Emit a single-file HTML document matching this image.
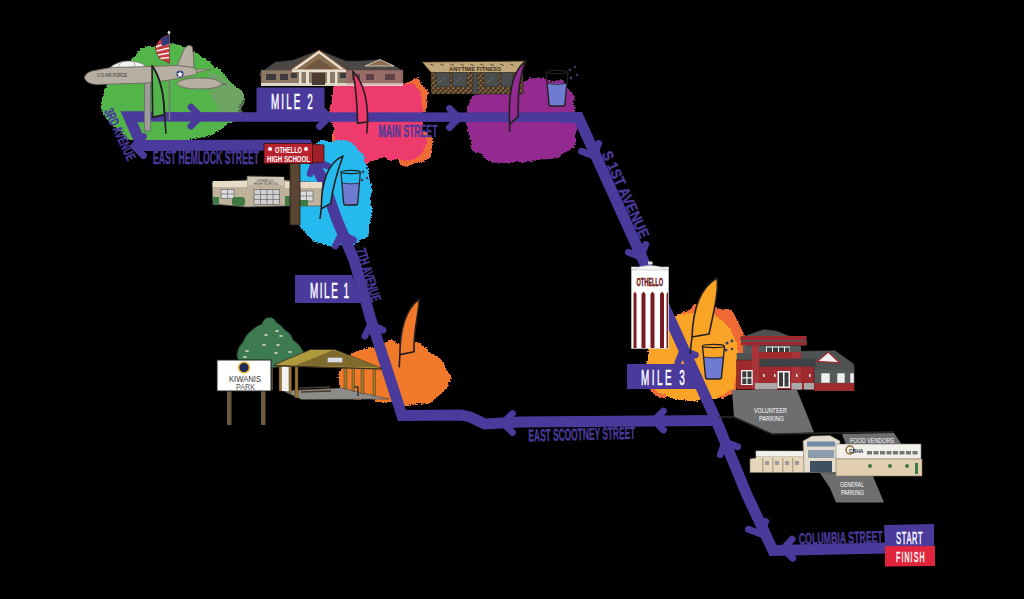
<!DOCTYPE html>
<html><head><meta charset="utf-8">
<style>
html,body{margin:0;padding:0;background:#000;width:1024px;height:599px;overflow:hidden}
svg{display:block}
text{font-family:"Liberation Sans",sans-serif}
</style></head>
<body>
<svg width="1024" height="599" viewBox="0 0 1024 599">
<defs>
<filter id="rough" x="-20%" y="-20%" width="140%" height="140%">
<feTurbulence type="fractalNoise" baseFrequency="0.08" numOctaves="3" seed="5" result="n"/>
<feDisplacementMap in="SourceGraphic" in2="n" scale="10" xChannelSelector="R" yChannelSelector="G"/>
</filter>
<filter id="rough2" x="-20%" y="-20%" width="140%" height="140%">
<feTurbulence type="fractalNoise" baseFrequency="0.25" numOctaves="2" seed="8" result="n"/>
<feDisplacementMap in="SourceGraphic" in2="n" scale="7" xChannelSelector="R" yChannelSelector="G"/>
</filter>
<filter id="spray" x="-15%" y="-15%" width="130%" height="130%">
<feTurbulence type="fractalNoise" baseFrequency="0.08" numOctaves="3" seed="5" result="n"/>
<feDisplacementMap in="SourceGraphic" in2="n" scale="9" xChannelSelector="R" yChannelSelector="G" result="d"/>
<feGaussianBlur in="d" stdDeviation="2.2" result="b"/>
<feTurbulence type="fractalNoise" baseFrequency="0.7" numOctaves="1" seed="11" result="t"/>
<feColorMatrix in="t" type="matrix" values="0 0 0 0 0  0 0 0 0 0  0 0 0 0 0  1 0 0 0 0" result="ta"/>
<feComposite in="b" in2="ta" operator="arithmetic" k1="0" k2="1" k3="0.7" k4="-0.35" result="m"/>
<feComponentTransfer in="m" result="m2"><feFuncA type="discrete" tableValues="0 1"/></feComponentTransfer>
<feMorphology in="d" operator="dilate" radius="5" result="d2"/>
<feComposite in="d2" in2="m2" operator="in"/>
</filter>
<g id="flagR">
<path d="M2,-16 C3,-42 12,-64 27,-76 C29,-58 25,-38 19,-20 Z" stroke="#231f20" stroke-width="1.6" vector-effect="non-scaling-stroke" stroke-linejoin="round"/>
<path d="M0,0 L2,-16" stroke="#231f20" stroke-width="1.8" vector-effect="non-scaling-stroke" fill="none"/>
</g>
<g id="glass">
<path d="M1,13 L3,33 Q3,35 5,35 L17,35 Q19,35 19,33 L21,13 Z" fill="#6f7bd0"/>
<path d="M0,2 L3,33 Q3,35 5,35 L17,35 Q19,35 19,33 L22,2" fill="none" stroke="#231f20" stroke-width="1.4"/>
<ellipse cx="11" cy="2" rx="11" ry="1.6" fill="none" stroke="#231f20" stroke-width="1.2"/>
<path d="M1,13 Q11,15 21,13" fill="none" stroke="#231f20" stroke-width="0.8"/>
</g>
<g id="chev">
<path d="M-9.5,-9.5 L0,0 L-9.5,9.5" fill="none" stroke="#4a3a9c" stroke-width="6.8" stroke-linecap="round" stroke-linejoin="round"/>
</g>
</defs>
<rect width="1024" height="599" fill="#000"/>

<!-- BLOBS -->
<path filter="url(#spray)" fill="#52b44a" d="M137,52 L150,47 L175,44 L195,52 L212,62 L225,75 L244,95 L238,116 L222,130 L205,138 L170,142 L142,142 L125,138 L110,124 L100,106 L104,88 L120,70 Z"/>
<path filter="url(#spray)" fill="#7aa070" opacity="0.7" d="M205,70 L225,78 L246,96 L240,118 L222,118 L212,95 Z"/>
<path filter="url(#spray)" fill="#f06a35" d="M398,84 L418,79 L427,92 L426,114 L412,108 Z"/>
<path filter="url(#spray)" fill="#f06a35" d="M330,128 L338,126 L342,150 L333,146 Z"/>
<path filter="url(#spray)" fill="#f06a35" d="M396,152 L418,140 L426,128 L433,140 L432,156 L420,164 L400,164 Z"/>
<path filter="url(#spray)" fill="#ee3a6e" d="M333,84 L380,82 L416,84 L423,95 L423,125 L427,140 L422,155 L410,160 L385,160 L360,162 L340,152 L332,130 L330,105 Z"/>
<path filter="url(#spray)" fill="#922a8f" d="M470,96 L500,86 L530,78 L562,80 L574,98 L577,125 L574,148 L558,158 L530,162 L495,163 L472,150 L466,125 Z"/>
<path filter="url(#spray)" fill="#26b9ed" d="M322,140 L345,140 L362,152 L370,172 L372,200 L370,232 L355,246 L330,247 L312,240 L298,225 L290,200 L292,175 L300,158 Z"/>
<path filter="url(#spray)" fill="#f07a2a" d="M338,374 L346,360 L357,352 L375,346 L390,341 L413,342 L430,350 L445,364 L451,377 L446,392 L424,404 L400,405 L380,401 L352,398 L340,388 Z"/>
<path filter="url(#spray)" fill="#f06a35" d="M670,318 L700,304 L730,310 L744,330 L746,355 L740,385 L722,400 L700,380 L715,335 Z"/>
<path filter="url(#spray)" fill="#f06a35" d="M646,360 L660,350 L672,380 L668,400 L650,392 Z"/>
<path filter="url(#spray)" fill="#f9a425" d="M652,335 L680,314 L712,312 L732,330 L740,358 L734,388 L712,400 L675,400 L652,385 L646,360 Z"/>


<!-- ROUTE -->
<g fill="none" stroke="#4a3a9c" stroke-width="11" stroke-linejoin="miter" stroke-miterlimit="6" stroke-linecap="butt">
<path d="M886,548 L773,550.5 L747,495 L716,420 L644,262 L578.5,117.5 L560,117.5"/>
<path stroke-width="9.5" d="M580,117.3 L127,116.8"/>
<path d="M145,116.8 L129,116.8 L141.5,145.5 L307,145 L317,168 L324,183 L337,220 L354,260 L371,320 L402,415.5 L461,415 L470,417 L485,424 L520,422 L716,420.5"/>
</g>
<g>
<use href="#chev" transform="translate(200.5,116.7)"/>
<use href="#chev" transform="translate(329,117)"/>
<use href="#chev" transform="translate(459,118)"/>
<use href="#chev" transform="translate(594,156) rotate(65.5)"/>
<use href="#chev" transform="translate(641,257) rotate(65.5)"/>
<use href="#chev" transform="translate(683,350) rotate(247)"/>
<use href="#chev" transform="translate(725,442) rotate(245.5)"/>
<use href="#chev" transform="translate(761,534) rotate(65.5)"/>
<use href="#chev" transform="translate(783,549) rotate(178)"/>
<use href="#chev" transform="translate(503,423) rotate(180)"/>
<use href="#chev" transform="translate(654,420.5) rotate(180)"/>
<use href="#chev" transform="translate(371,324) rotate(252)"/>
<use href="#chev" transform="translate(341.5,234) rotate(252)"/>
<use href="#chev" transform="translate(315,161) rotate(246)"/>
<use href="#chev" transform="translate(134,146) rotate(180)"/>
</g>
<!-- Mile labels -->
<g fill="#4a3a9c">
<rect x="256.5" y="87.5" width="68" height="26"/>
<path d="M295,275 L352,275 L362,303 L295,303 Z"/>
<path d="M627,364 L690,364 L700,389 L627,389 Z"/>
<path d="M884,525 L934,524 L934,546 L885,546 Z"/>
</g>
<path d="M885,546 L935,546 L935,566 L885,566.5 Z" fill="#e0243b"/>
<g fill="#fff" stroke="#fff" stroke-width="0.6" font-size="21.5">
<text transform="translate(271,108.8) scale(0.46,1)" textLength="91" lengthAdjust="spacing">MILE 2</text>
<text transform="translate(310,297.8) scale(0.46,1)" textLength="85" lengthAdjust="spacing">MILE 1</text>
<text transform="translate(641,385) scale(0.46,1)" textLength="95" lengthAdjust="spacing">MILE 3</text>
</g>
<g fill="#fff" stroke="#fff" stroke-width="0.5">
<text transform="translate(896,543.8) scale(0.46,1)" font-size="16.4" textLength="58" lengthAdjust="spacing">START</text>
<text transform="translate(896,562) scale(0.46,1)" font-size="15.3" textLength="62" lengthAdjust="spacing">FINISH</text>
</g>

<!-- PLANE -->
<g id="plane">
<rect x="144.5" y="82" width="6" height="49" fill="#9c9c9c" stroke="#6a6a6a" stroke-width="0.8"/>
<line x1="169.5" y1="80" x2="169.5" y2="120" stroke="#777" stroke-width="1.5"/>
<path d="M177,66 L184.5,48.5 Q188,43.5 192,46.5 Q193.5,50 194,68 Z" fill="#b8afa3" stroke="#6d665f" stroke-width="0.9"/>
<path d="M185,69 L211,69.5 L196,72.5 Z" fill="#b8afa3" stroke="#6d665f" stroke-width="0.7"/>
<path d="M84.5,78 Q85,73 92,71 L111,67.5 L146,66.5 L178,65.5 L193,67.5 L197,71 L196,74.5 L170,80 L147,83 L96,84.5 Q86,83.5 84.5,78 Z" fill="#b8afa3" stroke="#6d665f" stroke-width="0.9"/>
<path d="M110,67.5 Q118,61 128,61 Q140,61 146,66.5 Z" fill="#f4f4f4" stroke="#777" stroke-width="0.8"/>
<path d="M121,62 L118,67 M134,61.5 L135,66.5" stroke="#888" stroke-width="0.7"/>
<path d="M177,83.5 Q180,78 199,78 Q218,78 221,83 L227,84 L221,85 Q216,89 199,89 Q180,89 177,83.5 Z" fill="#b8afa3" stroke="#6d665f" stroke-width="0.9"/>
<circle cx="180" cy="74" r="3.6" fill="#2b3a7a"/>
<path d="M180,71 L181,73.3 L183.3,73.5 L181.4,75 L182,77.3 L180,76 L178,77.3 L178.6,75 L176.7,73.5 L179,73.3 Z" fill="#fff"/>
<text x="97" y="77" font-size="5.5" fill="#333" textLength="30" lengthAdjust="spacingAndGlyphs">U S AIR FORCE</text>
<line x1="169" y1="32" x2="169" y2="66" stroke="#888" stroke-width="1.3"/>
<path d="M155,48 Q158,40 163,37 L169,34.5 L169.5,63.5 Q164,60 160,59 Q157,55 155,48 Z" fill="#c8393f" stroke="#5a2a2a" stroke-width="0.5"/>
<path d="M156.5,51 L169,48 M158,55 L169,53 M160.5,58.5 L169,57.5 M156,47 Q160,45 169,43.5" stroke="#f4f4f4" stroke-width="1.6" fill="none"/>
<path d="M161,38.5 L169,35 L169,44 L162,46 Z" fill="#2e3a78"/>
<circle cx="169" cy="32.5" r="1.4" fill="#ddd"/>
</g>

<!-- MILE 2 building -->
<g id="bldg2">
<path d="M259.7,73.6 L275.3,61.9 L292.5,60.3 L319,50.2 L346,61 L360,61 L380,59.5 L395,66 L403,71 L403,76 L260,76 Z" fill="#4b4846" stroke="#2e2c2a" stroke-width="0.6"/>
<rect x="261" y="70" width="142" height="15" fill="#8c7966" stroke="#4a3e33" stroke-width="0.5"/>
<rect x="261" y="83" width="142" height="3" fill="#ddd5c6"/>
<path d="M291,69.7 L319,50.2 L345.6,69.7 Z" fill="#e8e0d0" stroke="#9a5e2e" stroke-width="0.9"/>
<path d="M297,69 L319,53.5 L340,69 Z" fill="#8a6e50"/>
<path d="M303,69.5 L319,59 L334,69.5 Z" fill="#6e5640"/>
<rect x="292" y="69.5" width="54" height="2.5" fill="#e8e0d0"/>
<rect x="312" y="73" width="13" height="12" fill="#4a3a30"/>
<g fill="#e8e0d0"><rect x="306" y="72" width="3" height="13"/><rect x="327" y="72" width="3" height="13"/><rect x="299" y="72" width="2.5" height="13"/><rect x="335" y="72" width="2.5" height="13"/></g>
<g fill="#3c3c3c"><rect x="266" y="74" width="10" height="6"/><rect x="280" y="74" width="8" height="6"/><rect x="291" y="73" width="6" height="5"/><rect x="340" y="73" width="6" height="5"/><rect x="352" y="74" width="8" height="6"/><rect x="366" y="74" width="8" height="6"/><rect x="385" y="74" width="10" height="6"/></g>
<path d="M365,66 L380,59.5 L394,66 Z" fill="#8a6e50" stroke="#e0d6c6" stroke-width="0.8"/>
<rect x="346" y="70" width="57" height="15" fill="#c04a6a" opacity="0.25"/>
</g>
<!-- FITNESS -->
<g id="fitness">
<defs><pattern id="stone" width="5" height="5" patternUnits="userSpaceOnUse"><rect width="5" height="5" fill="#4a3a2c"/><rect x="0" y="0" width="1.5" height="1.2" fill="#c07a3a"/><rect x="2.5" y="2.5" width="1.5" height="1.2" fill="#c8a048"/><rect x="1" y="4" width="1" height="1" fill="#9a4a2a"/><rect x="4" y="1" width="1" height="1" fill="#6a8a4a"/></pattern></defs>
<rect x="431" y="72.5" width="92" height="21.5" fill="url(#stone)" stroke="#2a2018" stroke-width="0.6"/>
<g fill="#4a4e4e" stroke="#2a2a2a" stroke-width="0.5"><rect x="436.5" y="72.5" width="13.5" height="14"/><rect x="452.5" y="72.5" width="14.5" height="14"/><rect x="473" y="72.5" width="4.5" height="21.5"/><rect x="484" y="72.5" width="14" height="14"/><rect x="501" y="72.5" width="12" height="14"/></g>
<path d="M439,83 L446,76 M455,83 L462,76 M487,83 L494,76" stroke="#888" stroke-width="0.5"/>
<path d="M422,62 L526,61 L522,72.5 L431,72.5 Z" fill="#c2a878" stroke="#3a2e22" stroke-width="0.8"/>
<path d="M430,64 L434,65.5 M440,64 L444,65.5 M450,64 L454,65.5 M460,64 L464,65.5 M470,64 L474,65.5 M480,64 L484,65.5 M490,64 L494,65.5 M500,64 L504,65.5 M510,64 L514,65.5" stroke="#3a2e22" stroke-width="0.7"/>
<text x="449" y="71" font-size="5.5" font-weight="bold" fill="#3a2e22" textLength="52" lengthAdjust="spacingAndGlyphs">ANYTIME FITNESS</text>
</g>
<!-- OTHELLO HIGH SCHOOL -->
<g id="school">
<path d="M212,182 L247,180 L247,176 L284,177 L284,180 L322,183 L322,206 L284,206 L247,207 L213,204 Z" fill="#bfb29a" stroke="#555" stroke-width="0.7"/>
<rect x="213" y="181" width="34" height="6" fill="#e8dcc8"/>
<rect x="285" y="182" width="37" height="6" fill="#e8dcc8"/>
<rect x="248" y="177" width="36" height="8" fill="#cfc5b3"/><text x="257" y="181.5" font-size="3.5" fill="#444">OTHELLO</text><text x="254" y="185" font-size="3.5" fill="#444">HIGH SCHOOL</text>
<rect x="221" y="189.5" width="13" height="9" fill="#dcdcdc" stroke="#555" stroke-width="0.6"/><path d="M227.5,189.5 V198.5 M221,194 H234" stroke="#555" stroke-width="0.6"/>
<rect x="300" y="191" width="13" height="10" fill="#dcdcdc" stroke="#555" stroke-width="0.6"/><path d="M306.5,191 V201 M300,196 H313" stroke="#555" stroke-width="0.6"/>
<rect x="254" y="189.5" width="25.5" height="15" fill="#d0d0d0" stroke="#555" stroke-width="0.6"/><path d="M260.5,189.5 V204.5 M267,189.5 V204.5 M273,189.5 V204.5 M254,194.5 H279.5 M254,199.5 H279.5" stroke="#555" stroke-width="0.6"/>
<rect x="213" y="197" width="6" height="8" fill="#3f7a45"/>
<rect x="232" y="197" width="13" height="9" rx="3" fill="#3f7a45"/>
<rect x="285" y="196" width="7" height="10" fill="#3f7a45"/>
<rect x="300" y="200" width="8" height="6" fill="#3f7a45"/>
</g>
<rect x="290" y="163" width="10" height="62" fill="#5a4434" stroke="#2a2018" stroke-width="0.8"/>
<g id="hssign">
<path d="M312,144 L324,145 L324,162 L312,163 Z" fill="#a01e28" stroke="#3a1010" stroke-width="0.8"/>
<rect x="264" y="143.5" width="48.5" height="20" fill="#b8232e" stroke="#3a1010" stroke-width="0.8"/>
<text x="275" y="152.5" font-size="8.5" font-weight="bold" fill="#fff" textLength="27" lengthAdjust="spacingAndGlyphs">OTHELLO</text>
<text x="267" y="161.5" font-size="8.5" font-weight="bold" fill="#fff" textLength="43" lengthAdjust="spacingAndGlyphs">HIGH SCHOOL</text>
<circle cx="270" cy="149" r="2" fill="#fff"/><circle cx="306" cy="149" r="2" fill="#fff"/>
</g>

<!-- WATER TOWER -->
<g id="tower">
<rect x="631.5" y="267" width="37" height="81.5" fill="#fff" stroke="#ccc" stroke-width="0.6"/>
<path d="M631.5,270 Q650,261 668.5,270 Z" fill="#f4f4f4" stroke="#bbb" stroke-width="0.6"/>
<rect x="648" y="261.5" width="4.5" height="3" fill="#ddd"/>
<text x="636.5" y="285.5" font-size="10.5" font-weight="bold" fill="#6e1418" stroke="#6e1418" stroke-width="0.4" textLength="26.5" lengthAdjust="spacingAndGlyphs">OTHELLO</text>
<g fill="#7a1a22">
<path d="M633.5,348 L633.5,294 L635,291.5 L636.5,294 L636.5,348 Z"/>
<path d="M641.5,348 L641.5,294 L643.5,291.5 L645.5,294 L645.5,348 Z"/>
<path d="M650.5,348 L650.5,294 L652.5,291.5 L654.5,294 L654.5,348 Z"/>
<path d="M660,348 L660,294 L662,291.5 L664,294 L664,348 Z"/>
<path d="M666.5,348 L666.5,294 L668,292 L668,348 Z"/>
</g>
</g>

<!-- RED BUILDING -->
<g id="redb">
<path d="M801,351 L835,350.5 L854,364 L854.3,370 L801,370 Z" fill="#4f5253" stroke="#2a2a2a" stroke-width="0.5"/>
<path d="M817,361.5 L828.3,352 L839.6,362.8 Z" fill="#f0f0f0" stroke="#9e2a2e" stroke-width="1.3"/>
<rect x="814" y="369.5" width="40.3" height="14" fill="#55595a"/>
<rect x="814" y="383" width="40.3" height="8" fill="#9e2a2e"/>
<g fill="#eee" stroke="#555" stroke-width="0.5"><rect x="821" y="373" width="9" height="10"/><rect x="837" y="373" width="8" height="10"/><rect x="850" y="373" width="4" height="10"/></g>
<path d="M740.7,337.4 L763.4,329.4 L775.5,330.7 L807.5,342.7 L806,345.4 L740.7,340 Z" fill="#4f5253" stroke="#2a2a2a" stroke-width="0.5"/>
<rect x="741" y="336" width="65.5" height="9.4" fill="#9e2a2e"/>
<rect x="741" y="340" width="65.5" height="1.6" fill="#55595a"/>
<rect x="743" y="345.4" width="58" height="15" fill="#55595a"/>
<g fill="#f2f2f2"><rect x="766" y="346.5" width="24" height="6.5"/></g>
<g fill="#3c3c3c"><rect x="767" y="347.5" width="5" height="4.5"/><rect x="773" y="347.5" width="5" height="4.5"/><rect x="779" y="347.5" width="5" height="4.5"/><rect x="785" y="347.5" width="4.5" height="4.5"/></g>
<rect x="752" y="352" width="49" height="11" fill="#9e2a2e"/>
<path d="M736.7,353 L755,353 L755,363 L736.7,363 Z" fill="#4f5253"/>
<rect x="736.7" y="360" width="77.3" height="29.5" fill="#9e2a2e" stroke="#3a1414" stroke-width="0.5"/>
<rect x="752" y="345.4" width="7" height="44" fill="#a8343a"/>
<rect x="791.5" y="352" width="9.5" height="37.5" fill="#a8343a"/>
<path d="M759.4,358.8 L815.6,358.8 L815.6,366.8 L759.4,366.8 Z" fill="#3f4244"/>
<rect x="741" y="370" width="11.7" height="15" fill="#f2f2f2"/>
<g fill="#3c3c3c"><rect x="742.3" y="371.3" width="4" height="6"/><rect x="747.5" y="371.3" width="4" height="6"/><rect x="742.3" y="378.5" width="4" height="5.5"/><rect x="747.5" y="378.5" width="4" height="5.5"/></g>
<rect x="777.5" y="371" width="12.5" height="17" fill="#f2f2f2"/>
<g fill="#3c3c3c"><rect x="779" y="372.5" width="4" height="14"/><rect x="784.5" y="372.5" width="4" height="14"/></g>
<g fill="#a9a9a9"><rect x="755" y="383" width="22.5" height="6.5"/><rect x="791.5" y="383" width="10.5" height="6.5"/><rect x="804" y="383" width="10" height="6.5"/></g>
<g fill="#eee"><rect x="763" y="374" width="1.5" height="3"/><rect x="774" y="374" width="1.5" height="3"/><rect x="796" y="374" width="1.5" height="3"/><rect x="809" y="374" width="1.5" height="3"/></g>
</g>
<!-- PARKING & CBHA -->
<path d="M732,390 L797,390 L814,432.5 L772,434 L734,417 Z" fill="#6e6e70"/>
<path d="M719,417 L734,417 L772,434 L894,432" fill="none" stroke="#2a2a2a" stroke-width="1.6"/>
<path d="M842,434 L894,433 L902,445 L846,445 Z" fill="#6e6e70"/>
<path d="M820,473 L872,474 L884,502.5 L836,502.5 L830,488 Z" fill="#6e6e70"/>
<g id="cbha">
<path d="M750,459 L756,458 L756,451 L805,451.5 L805,472.5 L750,472.5 Z" fill="#e6d6bc" stroke="#8a7a68" stroke-width="0.6"/>
<rect x="756" y="451" width="49" height="5.5" fill="#f3f1ec" stroke="#999" stroke-width="0.4"/>
<g fill="#b8a78c"><rect x="762" y="458" width="1.5" height="14"/><rect x="772" y="458" width="1.5" height="14"/><rect x="782" y="458" width="1.5" height="14"/><rect x="792" y="458" width="1.5" height="14"/></g>
<g fill="#9a9a9a"><rect x="765" y="461" width="4" height="4"/><rect x="775" y="461" width="4" height="4"/><rect x="785" y="461" width="4" height="4"/><rect x="795" y="461" width="4" height="4"/></g>
<path d="M803,441 L812,436 L830,435.5 L840,441 L838,472.5 L804,472.5 Z" fill="#e6dccd" stroke="#7a7060" stroke-width="0.6"/>
<rect x="807" y="441.5" width="28" height="5" fill="#6e8aa8"/>
<rect x="808" y="450" width="26" height="8" fill="#8a9cae"/>
<rect x="810" y="461" width="22" height="11.5" fill="#3f5060"/>
<rect x="836" y="444" width="85" height="15" fill="#f3f0ea" stroke="#777" stroke-width="0.6"/>
<rect x="836" y="459" width="86" height="17" fill="#e2cfb0" stroke="#8a7a68" stroke-width="0.6"/>
<circle cx="850" cy="450" r="4" fill="none" stroke="#8a6a30" stroke-width="1.5"/>
<text x="849" y="452.5" font-size="5" font-weight="bold" fill="#1f3050">CBHA</text>
<g fill="#777"><rect x="867" y="451" width="5" height="3.5"/><rect x="873.5" y="451" width="5" height="3.5"/><rect x="880" y="451" width="5" height="3.5"/><rect x="886.5" y="451" width="5" height="3.5"/><rect x="893" y="451" width="5" height="3.5"/><rect x="899.5" y="451" width="5" height="3.5"/><rect x="906" y="451" width="5" height="3.5"/><rect x="912.5" y="451" width="5" height="3.5"/></g>
<rect x="915" y="463" width="3" height="11" fill="#3f7a45"/>
<circle cx="870" cy="466" r="2" fill="#3f7a45"/><circle cx="890" cy="466" r="2" fill="#3f7a45"/><circle cx="907" cy="466" r="2" fill="#3f7a45"/>
</g>

<!-- KIWANIS -->
<g id="tree">
<rect x="268" y="355" width="5" height="35" fill="#5a4434"/>
<path d="M268.5,317.5 Q274,317 276,322 Q282,326 285,330 Q292,334 293,340 Q300,344 303.5,352 Q304,360 296,364 L272,368 Q250,366 240,362 Q236,358 237,354 Q238,346 243,342 Q246,334 251,331 Q256,326 262,324 Q264,318 268.5,317.5 Z" fill="#3d7a50" stroke="#1f3a25" stroke-width="0.9"/>
<g fill="#c8c8c8"><ellipse cx="266" cy="335" rx="2" ry="1"/><ellipse cx="277" cy="331" rx="2" ry="1"/><ellipse cx="281" cy="336" rx="2" ry="1"/><ellipse cx="264" cy="345" rx="2" ry="1"/><ellipse cx="278" cy="345" rx="2" ry="1"/><ellipse cx="247" cy="351" rx="2" ry="1"/><ellipse cx="276" cy="353" rx="2" ry="1"/><ellipse cx="290" cy="352" rx="2" ry="1"/><ellipse cx="245" cy="357" rx="2" ry="1"/></g>
</g>
<g id="pavilion">
<path d="M282.7,390.8 L341,388 L389,399 L301.7,399.6 Z" fill="#8e8c88" stroke="#444" stroke-width="0.6"/>
<rect x="281" y="366" width="8" height="25" fill="#f2f2f2"/>
<g fill="#a0782e" stroke="#3a3020" stroke-width="0.4"><rect x="279" y="365" width="2.5" height="26"/><rect x="289" y="365" width="2.5" height="28"/><rect x="295" y="365" width="3" height="33"/><rect x="344" y="366" width="3" height="23"/><rect x="352" y="367" width="2.5" height="24"/><rect x="361" y="367" width="3" height="27"/><rect x="373" y="368" width="2.5" height="28"/></g>
<path d="M299,388 L330,387 M301,392 L331,391" stroke="#4a3a2a" stroke-width="1.6"/>
<path d="M354,387 L358,387 L358,396" stroke="#333" stroke-width="1.5" fill="none"/>
<path d="M274.4,364.7 L310.6,349.5 L334.7,349.5 L382.3,368.6 L379,369 L274.4,366 Z" fill="#b09a3e" stroke="#3a3020" stroke-width="0.8"/>
<path d="M295,365.5 L333.5,350 L379,367.5 Z" fill="#7f6a2e"/>
<path d="M274.4,365.5 L382,369" stroke="#3a3020" stroke-width="1"/>
<rect x="327.5" y="357.5" width="15" height="5" fill="#ddd" stroke="#777" stroke-width="0.5"/>
</g>
<g id="kiwanis">
<rect x="227" y="390" width="4.5" height="35" fill="#6b5a3a"/>
<rect x="261" y="390" width="4.5" height="35" fill="#6b5a3a"/>
<rect x="217" y="360" width="54" height="31" fill="#fff" stroke="#222" stroke-width="1"/>
<circle cx="244" cy="367.5" r="5.3" fill="#1d2a55" stroke="#e0b030" stroke-width="1.6"/>
<text x="229" y="381.5" font-size="9" fill="#333" textLength="32" lengthAdjust="spacingAndGlyphs">KIWANIS</text>
<text x="236" y="389.5" font-size="9" fill="#555" textLength="19" lengthAdjust="spacingAndGlyphs">PARK</text>
</g>

<!-- FLAGS -->
<g stroke="#231f20" stroke-width="1.6" stroke-linejoin="round">
<path fill="#f9a425" d="M692,337 C693,310 699,288 717,278 C719,292 713,315 709,334 Z"/>
<path fill="none" d="M692,337 L690,354"/>
<path fill="#26b9ed" d="M321.3,208.7 Q321.3,165.7 343,156 Q334,180 330.7,203.4 Z"/>
<path fill="none" d="M321.3,208.7 L320,219"/>
<path fill="#f07a2a" d="M399.9,354.6 C400,330 405,310 419.1,299.2 C419,315 413,330 414.1,351.8 Z"/>
<path fill="none" d="M399.9,354.6 L399.2,367.4"/>
<path fill="#922a8f" d="M509.7,124.3 C508,95 512,72 525,61.7 C519,80 517.5,100 518.3,116.3 Z"/>
<path fill="none" d="M509.7,124.3 L509.7,131.7"/>
<path fill="#52b44a" d="M152,65.6 L152.7,117.4 L164.5,114.6 C164,95 161,78 152,65.6 Z"/>
<path fill="none" d="M152,65.6 C161,78 164,95 164.5,114.6 L166,133.7"/>
<path fill="#ee3a6e" d="M352.7,71.3 C356,85 357,105 357.6,123.4 L367.6,121.8 C367.5,105 366,85 352.7,71.3 Z"/>
<path fill="none" d="M367.6,121.8 L366.8,133.5"/>
</g>
<!-- GLASSES -->
<use href="#glass" transform="translate(702.5,344)"/>
<use href="#glass" transform="translate(341,170) scale(0.88,1)"/>
<use href="#glass" transform="translate(546,70) scale(1,1.03)"/>
<g fill="#3b3a6a">
<circle cx="727" cy="343" r="1.6"/><circle cx="732" cy="341" r="1.4"/><circle cx="726" cy="350" r="1.5"/><circle cx="732" cy="349" r="1.3"/>
<circle cx="363" cy="172" r="1.4"/><circle cx="367" cy="168" r="1.2"/><circle cx="362" cy="180" r="1.3"/><circle cx="367" cy="178" r="1.2"/>
<circle cx="570" cy="70" r="1.4"/><circle cx="575" cy="67" r="1.2"/><circle cx="571" cy="78" r="1.4"/><circle cx="577" cy="75" r="1.2"/>
</g>
<!-- STREET NAMES -->
<g fill="#4a3a9c" font-weight="bold" stroke="#4a3a9c" stroke-width="0.4">
<text x="153" y="164" font-size="17.5" textLength="106" lengthAdjust="spacingAndGlyphs">EAST HEMLOCK STREET</text>
<text x="378.5" y="136.5" font-size="17" textLength="59" lengthAdjust="spacingAndGlyphs">MAIN STREET</text>
<text x="0" y="0" font-size="17" textLength="107" lengthAdjust="spacingAndGlyphs" transform="translate(528.5,441.5) rotate(-1.5)">EAST SCOOTNEY STREET</text>
<text x="0" y="0" font-size="16.5" textLength="84" lengthAdjust="spacingAndGlyphs" transform="translate(799,544.5) rotate(-1.5)">COLUMBIA STREET</text>
<text x="0" y="0" font-size="13.5" textLength="56" lengthAdjust="spacingAndGlyphs" transform="translate(104,111) rotate(65)">3RD AVENUE</text>
<text x="0" y="0" font-size="14" textLength="55" lengthAdjust="spacingAndGlyphs" transform="translate(356,250) rotate(73)">7TH AVENUE</text>
<text x="0" y="0" font-size="15" textLength="94" lengthAdjust="spacingAndGlyphs" transform="translate(601.5,154) rotate(65.5)">S 1ST AVENUE</text>
</g>
<g fill="#fff" font-size="8">
<text x="754" y="413" textLength="33" lengthAdjust="spacingAndGlyphs">VOLUNTEER</text>
<text x="759" y="421" textLength="25" lengthAdjust="spacingAndGlyphs">PARKING</text>
<text x="850" y="443" textLength="44" lengthAdjust="spacingAndGlyphs">FOOD VENDORS</text>
<text x="840" y="487" textLength="24" lengthAdjust="spacingAndGlyphs">GENERAL</text>
<text x="841" y="495" textLength="23" lengthAdjust="spacingAndGlyphs">PARKING</text>
</g>

</svg>
</body></html>
